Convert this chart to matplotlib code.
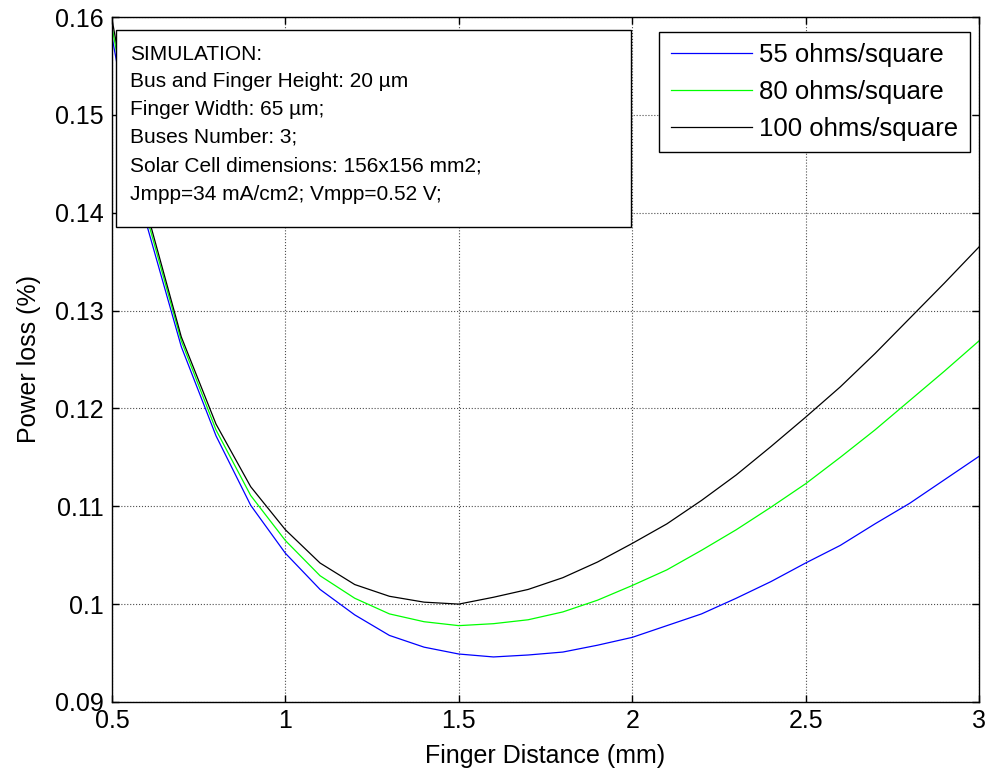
import numpy as np
from matplotlib import pyplot as plt
from matplotlib.patches import Rectangle

plt.rcParams['font.family'] = ['Liberation Sans', 'DejaVu Sans']

distance = [0.5, 0.6, 0.7, 0.8, 0.9, 1.0, 1.1, 1.2, 1.3, 1.4, 1.5, 1.6, 1.7,
            1.8, 1.9, 2.0, 2.1, 2.2, 2.3, 2.4, 2.5, 2.6, 2.7, 2.8, 2.9, 3.0]

loss_55 = [0.1580, 0.1388, 0.1263, 0.1172, 0.1101, 0.1052, 0.1015, 0.0989, 0.0968,
           0.0956, 0.0949, 0.0946, 0.0948, 0.0951, 0.0958, 0.0966, 0.0978, 0.0990,
           0.1006, 0.1023, 0.1042, 0.1060, 0.1082, 0.1103, 0.1127, 0.1151]

loss_80 = [0.1590, 0.1396, 0.1269, 0.1178, 0.1111, 0.1065, 0.1029, 0.1006, 0.0990,
           0.0982, 0.0978, 0.0980, 0.0984, 0.0992, 0.1004, 0.1019, 0.1035, 0.1055,
           0.1076, 0.1099, 0.1123, 0.1150, 0.1178, 0.1208, 0.1238, 0.1269]

loss_100 = [0.1598, 0.1402, 0.1273, 0.1184, 0.1120, 0.1076, 0.1042, 0.1020, 0.1008,
            0.1002, 0.1000, 0.1007, 0.1015, 0.1027, 0.1043, 0.1062, 0.1082, 0.1106,
            0.1132, 0.1161, 0.1191, 0.1222, 0.1256, 0.1292, 0.1328, 0.1365]

labels = ['55 ohms/square', '80 ohms/square', '100 ohms/square']
colors = ['#0000ff', '#00ff00', '#000000']

sim_lines = ['SIMULATION:',
             'Bus and Finger Height: 20 \u00b5m',
             'Finger Width: 65 \u00b5m;',
             'Buses Number: 3;',
             'Solar Cell dimensions: 156x156 mm2;',
             'Jmpp=34 mA/cm2; Vmpp=0.52 V;']

xticks = [0.5, 1, 1.5, 2, 2.5, 3]
xtick_labels = ['0.5', '1', '1.5', '2', '2.5', '3']
yticks = [0.09, 0.10, 0.11, 0.12, 0.13, 0.14, 0.15, 0.16]
ytick_labels = ['0.09', '0.1', '0.11', '0.12', '0.13', '0.14', '0.15', '0.16']

fig = plt.figure(figsize=(9.89, 7.73), dpi=100)
ax = fig.add_axes([0.1132, 0.0919, 0.8767, 0.8861])

for y, lab, c in zip([loss_55, loss_80, loss_100], labels, colors):
    ax.plot(distance, y, color=c, lw=0.9, label=lab)

ax.set_xlim(0.5, 3)
ax.set_ylim(0.09, 0.16)
ax.set_xticks(xticks)
ax.set_xticklabels(xtick_labels)
ax.set_yticks(yticks)
ax.set_yticklabels(ytick_labels)
ax.tick_params(direction='in', length=5, width=1, top=True, right=True,
               labelsize=18, colors='black')
ax.tick_params(axis='x', pad=5)
ax.tick_params(axis='y', pad=6)
ax.grid(True, linestyle=':', color='0.3', lw=0.8)
for s in ax.spines.values():
    s.set_linewidth(1)

ax.set_xlabel('Finger Distance (mm)', fontsize=18, labelpad=8)
ax.set_ylabel('Power loss (%)', fontsize=18, labelpad=10)

# simulation info box
box = Rectangle((0.0046, 0.6934), 0.594, 0.2876, transform=ax.transAxes,
                facecolor='white', edgecolor='black', lw=1, zorder=5)
ax.add_patch(box)
line_y = [54.3, 81.7, 109.3, 137.3, 166, 195]
for txt, py in zip(sim_lines, line_y):
    ax.text(0.0208, (702 - py) / 685, txt, transform=ax.transAxes, fontsize=15,
            va='center', ha='left', zorder=6)

leg = ax.legend(loc='upper right', bbox_to_anchor=(0.9896, 0.9786), borderaxespad=0,
                fontsize=18.5, handlelength=3.15, handletextpad=0.3, labelspacing=0.5,
                borderpad=0.45, fancybox=False, framealpha=1, edgecolor='black')
leg.get_frame().set_linewidth(1)
leg.set_zorder(7)

fig.savefig('out.png', dpi=100)
